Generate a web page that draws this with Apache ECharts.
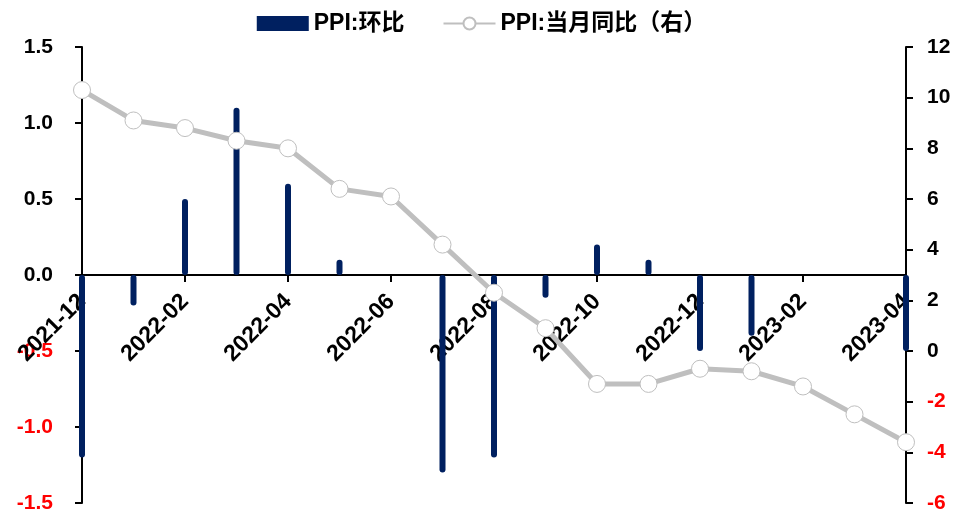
<!DOCTYPE html>
<html>
<head>
<meta charset="utf-8">
<script src="https://cdn.jsdelivr.net/npm/echarts@6/dist/echarts.min.js"></script>
<style>
  html, body { margin: 0; padding: 0; background: #fff; }
  #chart { width: 963px; height: 512px; }
</style>
</head>
<body>
<div id="chart"></div>
<script>
// Months on the category axis
var months = ['2021-12', '2022-01', '2022-02', '2022-03', '2022-04', '2022-05', '2022-06',
  '2022-07', '2022-08', '2022-09', '2022-10', '2022-11', '2022-12',
  '2023-01', '2023-02', '2023-03', '2023-04'];

// PPI month-on-month change (%), left axis
var ppiMoM = [-1.2, -0.2, 0.5, 1.1, 0.6, 0.1, 0.0, -1.3, -1.2, -0.15, 0.2, 0.1, -0.5, -0.4, 0.0, 0.0, -0.5];

// PPI year-on-year change (%), right axis
var ppiYoY = [10.3, 9.1, 8.8, 8.3, 8.0, 6.4, 6.1, 4.2, 2.3, 0.9, -1.3, -1.3, -0.7, -0.8, -1.4, -2.5, -3.6];

var seriesNames = ['PPI:环比', 'PPI:当月同比（右）'];

var FONT = '"Liberation Sans", Arial, "Noto Sans CJK SC", sans-serif';

// Plot area geometry; the category axis sits on the zero of the left axis,
// which is the vertical middle of the symmetric -1.5..1.5 range.
var GRID_TOP = 47, GRID_BOTTOM = 9, CHART_H = 512;
var plotH = CHART_H - GRID_TOP - GRID_BOTTOM;
var zeroOffset = -plotH / 2;

function negRed(value) {
  return Number(value) < 0 ? '#FF0000' : '#000000';
}

var chart = echarts.init(document.getElementById('chart'), null, { renderer: 'canvas' });

chart.setOption({
  animation: false,
  backgroundColor: '#ffffff',
  legend: {
    top: 7,
    left: 'center',
    itemWidth: 52,
    itemHeight: 15,
    itemGap: 38,
    textStyle: { fontFamily: FONT, fontSize: 23, fontWeight: 'bold', color: '#000' },
    data: [
      { name: seriesNames[0], icon: 'rect' },
      { name: seriesNames[1] }
    ]
  },
  grid: { left: 82, right: 57, top: GRID_TOP, bottom: GRID_BOTTOM, containLabel: false, outerBoundsMode: 'none' },
  xAxis: {
    type: 'category',
    data: months,
    boundaryGap: false,
    position: 'bottom',
    offset: zeroOffset,
    axisLine: { onZero: false, lineStyle: { color: '#000', width: 2 } },
    axisTick: { show: true, interval: 1, length: 7, lineStyle: { color: '#000', width: 2 } },
    axisLabel: {
      interval: 1,
      rotate: 45,
      margin: 23,
      fontFamily: FONT,
      fontSize: 23,
      fontWeight: 'bold',
      color: '#000'
    },
    splitLine: { show: false },
    z: 1
  },
  yAxis: [
    {
      type: 'value',
      min: -1.5,
      max: 1.5,
      interval: 0.5,
      position: 'left',
      axisLine: { show: true, lineStyle: { color: '#000', width: 2 } },
      axisTick: { show: true, length: 7, lineStyle: { color: '#000', width: 2 } },
      axisLabel: {
        margin: 29,
        fontFamily: FONT,
        fontSize: 21,
        fontWeight: 'bold',
        formatter: function (v) { return v.toFixed(1); },
        color: negRed
      },
      splitLine: { show: false }
    },
    {
      type: 'value',
      min: -6,
      max: 12,
      interval: 2,
      position: 'right',
      axisLine: { show: true, lineStyle: { color: '#000', width: 2 } },
      axisTick: { show: true, length: 7, lineStyle: { color: '#000', width: 2 } },
      axisLabel: {
        margin: 21,
        fontFamily: FONT,
        fontSize: 21,
        fontWeight: 'bold',
        color: negRed
      },
      splitLine: { show: false }
    }
  ],
  series: [
    {
      name: seriesNames[0],
      type: 'bar',
      yAxisIndex: 0,
      data: ppiMoM,
      barWidth: 6,
      itemStyle: { color: '#002060', borderRadius: 3 },
      z: 2
    },
    {
      name: seriesNames[1],
      type: 'line',
      yAxisIndex: 1,
      data: ppiYoY,
      color: '#BFBFBF',
      lineStyle: { color: '#BFBFBF', width: 5 },
      symbol: 'circle',
      symbolSize: 17,
      showAllSymbol: true,
      itemStyle: { color: '#ffffff', borderColor: '#BFBFBF', borderWidth: 1 },
      z: 3
    }
  ]
});
</script>
</body>
</html>
